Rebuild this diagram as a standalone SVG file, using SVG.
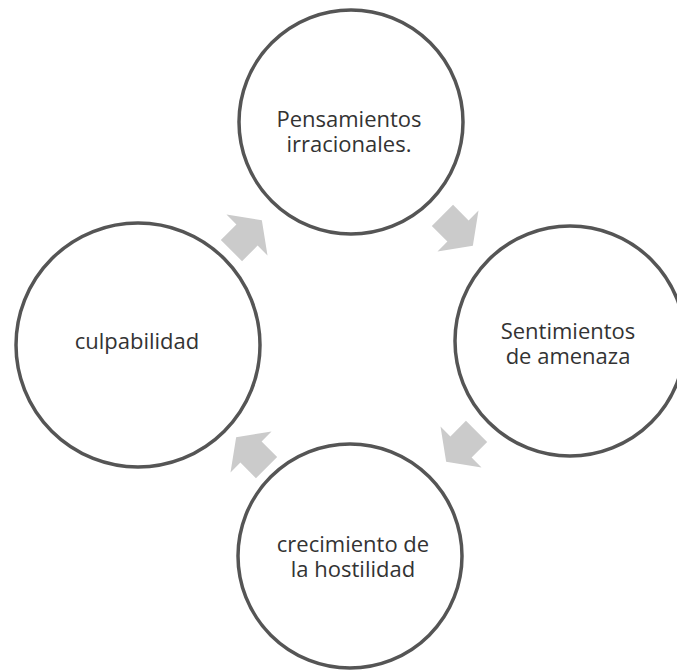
<svg xmlns="http://www.w3.org/2000/svg" width="677" height="671" viewBox="0 0 677 671">
<style>
.c{fill:#fff;stroke:#555;stroke-width:3.5}
.t{font-family:"Open Sans","Noto Sans",sans-serif;font-size:22px;fill:#333;text-anchor:middle}
.a{fill:#cbcbcb}
</style>
<defs>
<path id="arr" d="M-22,-15 L0,-15 L0,-29 L21,0 L0,29 L0,15 L-22,15 Z"/>
</defs>
<rect width="677" height="671" fill="#fff"/>
<g id="connectors">
<use href="#arr" class="a" transform="translate(247,235) rotate(-45)"/>
<use href="#arr" class="a" transform="translate(458,231) rotate(45)"/>
<use href="#arr" class="a" transform="translate(461,447) rotate(135)"/>
<use href="#arr" class="a" transform="translate(251,452) rotate(-135)"/>
</g>
<g id="node-pensamientos">
<circle class="c" cx="351" cy="122" r="112"/>
<text class="t" x="349" y="127">Pensamientos<tspan x="349" dy="25">irracionales.</tspan></text>
</g>
<g id="node-sentimientos">
<circle class="c" cx="570" cy="341" r="115"/>
<text class="t" x="568" y="339">Sentimientos<tspan x="568" dy="25">de amenaza</tspan></text>
</g>
<g id="node-crecimiento">
<circle class="c" cx="350" cy="556" r="112"/>
<text class="t" x="353" y="552">crecimiento de<tspan x="353" dy="25">la hostilidad</tspan></text>
</g>
<g id="node-culpabilidad">
<circle class="c" cx="138" cy="345" r="122"/>
<text class="t" x="137" y="349">culpabilidad</text>
</g>
</svg>
